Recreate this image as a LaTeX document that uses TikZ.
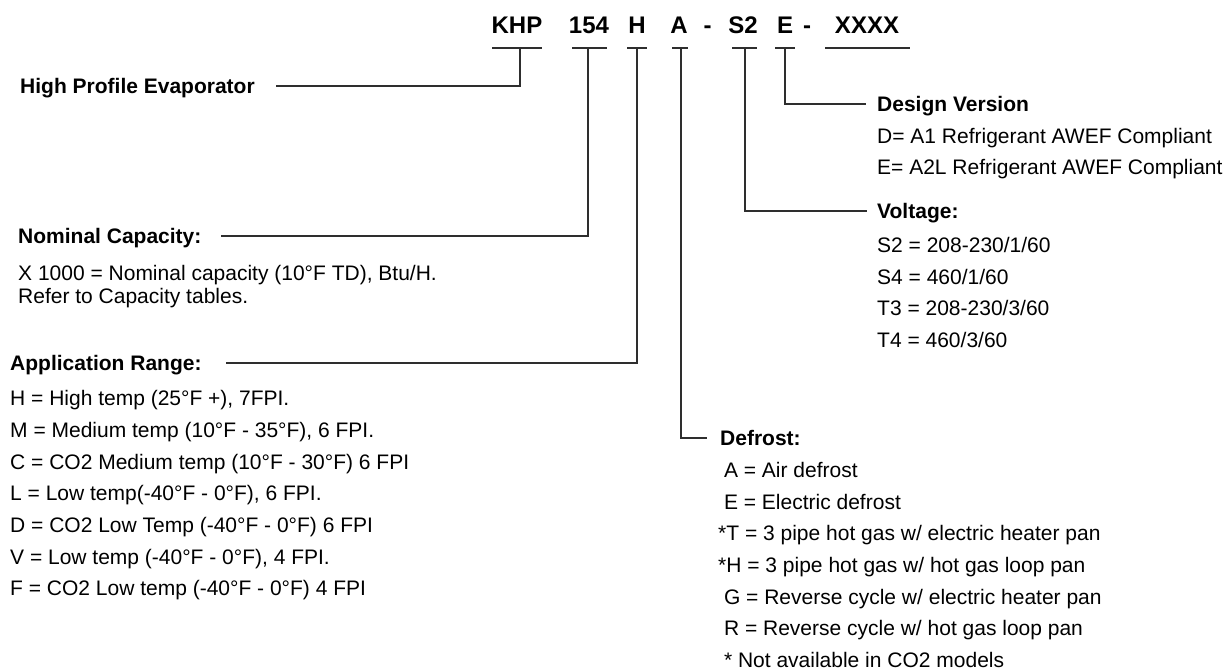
\documentclass[tikz,border=0pt]{standalone}
\usepackage{fontspec}
\setmainfont{Liberation Sans}
\begin{document}
\begin{tikzpicture}[x=1pt,y=-1pt,
  txt/.style={inner sep=0pt, anchor=west, text height=15pt, text depth=0pt, font=\fontsize{21}{25}\selectfont},
  head/.style={txt, font=\fontsize{21}{25}\selectfont\bfseries},
  codepart/.style={inner sep=0pt, anchor=center, text height=17pt, text depth=0pt, font=\fontsize{24}{28}\selectfont\bfseries},
  leader/.style={line width=1.3pt, draw=black!82}]
\useasboundingbox (0,0) rectangle (1228,670);

% model code
\node[codepart] (cKHP) at (517,25) {KHP};
\node[codepart] (c154) at (589,25) {154};
\node[codepart] (cH)   at (637,25) {H};
\node[codepart] (cA)   at (679,25) {A};
\node[codepart] (cd1)  at (707.5,25) {-};
\node[codepart] (cS2)  at (743,25) {S2};
\node[codepart] (cE)   at (785,25) {E};
\node[codepart] (cd2)  at (807,25) {-};
\node[codepart] (cX)   at (867,25) {XXXX};

% underlines
\draw[leader] (492,48) -- (542,48);
\draw[leader] (572,48) -- (607,48);
\draw[leader] (627,48) -- (647,48);
\draw[leader] (672,48) -- (688,48);
\draw[leader] (732,48) -- (757,48);
\draw[leader] (775,48) -- (795,48);
\draw[leader] (825,48) -- (910,48);

\coordinate (uKHP) at (520,48);
\coordinate (u154) at (588,48);
\coordinate (uH)   at (637,48);
\coordinate (uA)   at (681,48);
\coordinate (uS2)  at (745,48);
\coordinate (uE)   at (785,48);

% left-hand descriptions
\node[head] (hHPE) at (20,86) {High Profile Evaporator};

\node[head] (hNC) at (18,236) {Nominal Capacity:};
\node[txt] (nc1) at (18,273) {X 1000 = Nominal capacity (10°F TD), Btu/H.};
\node[txt] (nc2) at (18,296) {Refer to Capacity tables.};

\node[head] (hAR) at (10,363) {Application Range:};
\node[txt] (ar1) at (10,398) {H = High temp (25°F +), 7FPI.};
\node[txt] (ar2) at (10,430) {M = Medium temp (10°F - 35°F), 6 FPI.};
\node[txt] (ar3) at (10,462) {C = CO2 Medium temp (10°F - 30°F) 6 FPI};
\node[txt] (ar4) at (10,493) {L = Low temp(-40°F - 0°F), 6 FPI.};
\node[txt] (ar5) at (10,525) {D = CO2 Low Temp (-40°F - 0°F) 6 FPI};
\node[txt] (ar6) at (10,557) {V = Low temp (-40°F - 0°F), 4 FPI.};
\node[txt] (ar7) at (10,588) {F = CO2 Low temp (-40°F - 0°F) 4 FPI};

% right-hand descriptions
\node[head] (hDV) at (877,104) {Design Version};
\node[txt] (dv1) at (877,136) {D= A1 Refrigerant AWEF Compliant};
\node[txt] (dv2) at (877,167) {E= A2L Refrigerant AWEF Compliant};

\node[head] (hV) at (877,211) {Voltage:};
\node[txt] (v1) at (877,245) {S2 = 208-230/1/60};
\node[txt] (v2) at (877,277) {S4 = 460/1/60};
\node[txt] (v3) at (877,308) {T3 = 208-230/3/60};
\node[txt] (v4) at (877,340) {T4 = 460/3/60};

\node[head] (hDF) at (720,438) {Defrost:};
\node[txt] (df1) at (718,470) {\ A = Air defrost};
\node[txt] (df2) at (718,502) {\ E = Electric defrost};
\node[txt] (df3) at (718,533) {*T = 3 pipe hot gas w/ electric heater pan};
\node[txt] (df4) at (718,565) {*H = 3 pipe hot gas w/ hot gas loop pan};
\node[txt] (df5) at (718,597) {\ G = Reverse cycle w/ electric heater pan};
\node[txt] (df6) at (718,628) {\ R = Reverse cycle w/ hot gas loop pan};
\node[txt] (df7) at (718,660) {\ * Not available in CO2 models};

% leaders
\draw[leader] (uKHP) |- ([xshift=21pt]hHPE.east);
\draw[leader] (u154) |- ([xshift=19pt]hNC.east);
\draw[leader] (uH)   |- ([xshift=24pt]hAR.east);
\draw[leader] (uA)   |- ([xshift=-13pt]hDF.west);
\draw[leader] (uS2)  |- ([xshift=-10pt]hV.west);
\draw[leader] (uE)   |- ([xshift=-11pt]hDV.west);
\end{tikzpicture}
\end{document}
